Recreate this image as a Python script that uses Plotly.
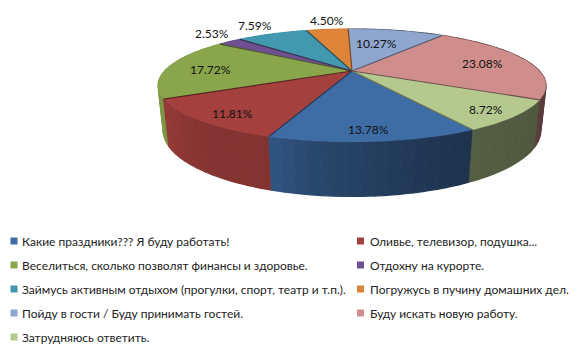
import numpy as np
import plotly.graph_objects as go

CATEGORIES = ["Какие праздники??? Я буду работать!", "Оливье, телевизор, подушка...",
              "Веселиться, сколько позволят финансы и здоровье.", "Отдохну на курорте.",
              "Займусь активным отдыхом (прогулки, спорт, театр и т.п.).", "Погружусь в пучину домашних дел.",
              "Пойду в гости / Буду принимать гостей.", "Буду искать новую работу.", "Затрудняюсь ответить."]
VALUES = [13.78, 11.81, 17.72, 2.53, 7.59, 4.50, 10.27, 23.08, 8.72]
COLORS = [(62, 108, 164), (164, 64, 61), (138, 166, 77), (110, 80, 144), (66, 152, 174),
          (221, 132, 56), (143, 166, 207), (207, 142, 140), (181, 201, 143)]

# layout constants (pixel-like axis units)
CX, CY, A, B, K, M, H = 352, 71, 187.5, 52.8, 0.2566, 0.025, 43.6
START = 150.0
LABEL_POS = [(368, 129), (232, 113), (210, 69), (212, 33), (255, 25), (327, 20), (376, 43), (482, 63), (486, 109)]
LEGEND_X = [(14, 20), (360.5, 368)]
LEGEND_Y = [241, 265, 289, 313, 337]
FONT = "Lato"
TXT = "#222222"


def project(theta, r=1.0, z=0.0):
    t = np.radians(theta)
    X, Y = r * np.sin(t), r * np.cos(t)
    w = 1 + K * Y + M * z
    return CX + A * X / w, CY + (-B * Y + H * z) / w


def rgb(c, f=1.0):
    return "rgb(%d,%d,%d)" % tuple(int(v * f) for v in c)


def shade(theta):
    th = (theta % 360)
    return np.interp(th, [60, 100, 150, 170, 190, 200, 215, 240, 270, 300],
                     [.40, .42, .47, .55, .68, .80, .80, .90, .95, .95])


edges = START + np.concatenate([[0], np.cumsum(VALUES)]) / sum(VALUES) * 360
fig = go.Figure()

# side walls, far to near
segs = []
for i, c in enumerate(COLORS):
    a0, a1 = edges[i], edges[i + 1]
    n = max(int((a1 - a0) / 3), 1)
    tt = np.linspace(a0, a1, n + 1)
    for j in range(n):
        segs.append((tt[j], tt[j + 1], c))
segs.sort(key=lambda s: np.cos(np.radians((s[0] + s[1]) / 2)), reverse=True)
for a0, a1, c in segs:
    th = np.linspace(a0, a1, 4)
    xt, yt = project(th)
    xb, yb = project(th[::-1], z=1.0)
    col = rgb(c, shade((a0 + a1) / 2))
    fig.add_trace(go.Scatter(x=np.r_[xt, xb], y=np.r_[yt, yb], mode="lines", fill="toself",
                             fillcolor=col, line=dict(color=col, width=1.2), hoverinfo="skip"))

# top faces
for i, c in enumerate(COLORS):
    th = np.linspace(edges[i], edges[i + 1], 80)
    x, y = project(th)
    fig.add_trace(go.Scatter(x=np.r_[CX, x, CX], y=np.r_[CY, y, CY], mode="lines", fill="toself",
                             fillcolor=rgb(c), line=dict(color=rgb(c), width=0.4), hoverinfo="skip"))
# slice borders
for i, c in enumerate(COLORS):
    x, y = project(edges[i + 1])
    fig.add_trace(go.Scatter(x=[CX, x], y=[CY, y], mode="lines",
                             line=dict(color=rgb(c, 0.55), width=1.2), hoverinfo="skip"))

# data labels
for v, (lx, ly) in zip(VALUES, LABEL_POS):
    fig.add_annotation(x=lx, y=ly, text="%.2f%%" % v, showarrow=False,
                       font=dict(family=FONT, size=12, color="#111111"))

# legend
for i, (name, c) in enumerate(zip(CATEGORIES, COLORS)):
    col = i % 2
    row = i // 2
    mx, tx = LEGEND_X[col]
    y = LEGEND_Y[row]
    fig.add_trace(go.Scatter(x=[mx], y=[y], mode="markers", hoverinfo="skip",
                             marker=dict(symbol="square", size=7, color=rgb(c))))
    fig.add_annotation(x=tx, y=y, text=name, showarrow=False, xanchor="left",
                       font=dict(family=FONT, size=12, color=TXT))

fig.update_layout(width=579, height=353, margin=dict(l=0, r=0, t=0, b=0), showlegend=False,
                  paper_bgcolor="white", plot_bgcolor="white",
                  xaxis=dict(range=[0, 579], visible=False, fixedrange=True),
                  yaxis=dict(range=[353, 0], visible=False, fixedrange=True))
fig.write_html("out.html", config={"displayModeBar": False},
               post_script="document.body.style.margin='0';document.body.style.overflow='hidden';")
